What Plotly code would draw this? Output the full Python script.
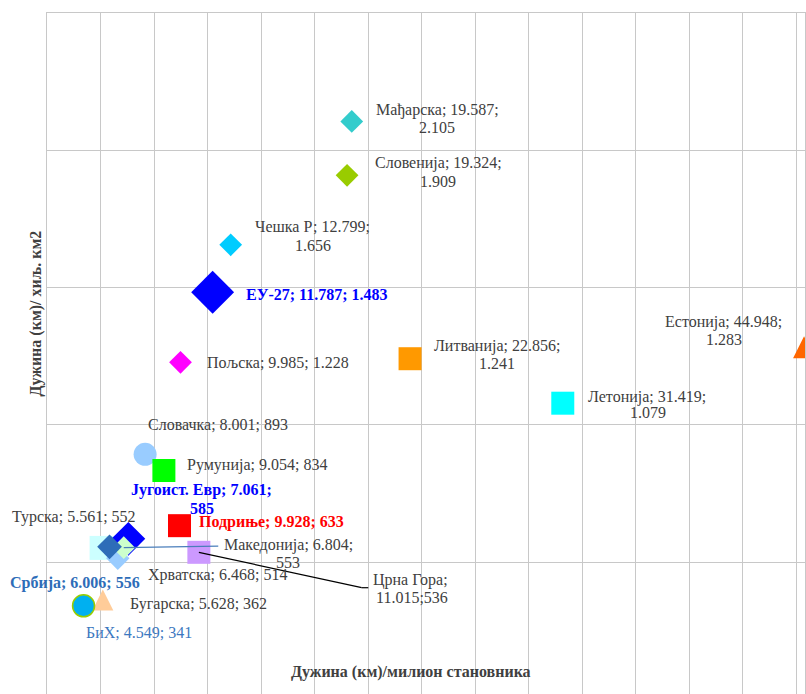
import plotly.graph_objects as go

# Road network density: km per million inhabitants vs. km per 1000 km2
countries = ["Мађарска", "Словенија", "Чешка Р", "ЕУ-27", "Пољска", "Литванија",
             "Летонија", "Естонија", "Словачка", "Румунија", "Подриње", "Црна Гора",
             "Бугарска", "БиХ", "Турска", "Југоист. Евр", "Хрватска", "Македонија", "Србија"]
km_per_million = [19587, 19324, 12799, 11787, 9985, 22856,
                  31419, 44948, 8001, 9054, 9928, 11015,
                  5628, 4549, 5561, 7061, 6468, 6804, 6006]
km_per_1000km2 = [2105, 1909, 1656, 1483, 1228, 1241,
                  1079, 1283, 893, 834, 633, 536,
                  362, 341, 552, 585, 514, 553, 556]

x_title = "Дужина (км)/милион становника"
y_title = "Дужина (км)/ хиљ. км2"

# Figure geometry
W, H = 806, 694
ML, MR, MT, MB = 47, 1, 13, 0
X_RANGE = [2500, 45000]
Y_RANGE = [20, 2500]
PW = W - ML - MR
PH = H - MT - MB

GRID = "#c8c8c8"
TXT = "#404040"
FONT = "Liberation Serif"

# marker style per country: (symbol, color, size)
style = {
    "Мађарска": ("diamond", "#33CCCC", 17.5),
    "Словенија": ("diamond", "#99CC00", 17.5),
    "Чешка Р": ("diamond", "#00CCFF", 17.5),
    "ЕУ-27": ("diamond", "#0000FF", 33),
    "Пољска": ("diamond", "#FF00FF", 17.5),
    "Литванија": ("square", "#FF9900", 23),
    "Летонија": ("square", "#00FFFF", 23),
    "Естонија": ("triangle", "#FF6600", 22),
    "Словачка": ("circle", "#99CCFF", 23),
    "Румунија": ("square", "#00FF00", 23),
    "Подриње": ("square", "#FF0000", 23),
    "Црна Гора": ("square", "#CC99FF", 23),
    "Бугарска": ("triangle", "#FFCC99", 21),
    "БиХ": ("circle", "#00B0F0", 22),
    "Турска": ("square", "#CCFFFF", 24),
    "Југоист. Евр": ("diamond", "#0000FF", 26),
    "Хрватска": ("diamond", "#99CCFF", 18),
    "Македонија": ("diamond", "#CCFFCC", 17.5),
    "Србија": ("diamond", "#2E6DB8", 19),
}

# label lines: (template, dx, dy, anchor) with offsets in px from the marker
labels = {
    "Мађарска": [("{n}; {x};", 86, -11.5, "center"), ("{y}", 85, 6.5, "center")],
    "Словенија": [("{n}; {x};", 91, -12, "center"), ("{y}", 91, 6, "center")],
    "Чешка Р": [("{n}; {x};", 82, -18, "center"), ("{y}", 82, 1, "center")],
    "ЕУ-27": [("<b>{n}; {x}; {y}</b>", 31, 2.5, "left")],
    "Пољска": [("{n}; {x}; {y}", 24.5, 0.7, "left")],
    "Литванија": [("{n}; {x};", 87, -12.7, "center"), ("{y}", 87, 5, "center")],
    "Летонија": [("{n}; {x};", 84, -6.5, "center"), ("{y}", 85, 9.5, "center")],
    "Естонија": [("{n}; {x};", -80.7, -25.5, "center"), ("{y}", -80, -8, "center")],
    "Словачка": [("{n}; {x}; {y}", 1, -29.3, "left")],
    "Румунија": [("{n}; {x}; {y}", 21, -5.5, "left")],
    "Подриње": [("<b>{n}; {x}; {y}</b>", 17.8, -4, "left")],
    "Црна Гора": [("{n};", 212, 27.7, "center"), ("{x};{y}", 213.6, 45, "center")],
    "Бугарска": [("{n}; {x}; {y}", 25.2, 4.2, "left")],
    "БиХ": [("{n}; {x}; {y}", 55.5, 26.4, "center")],
    "Турска": [("{n}; {x}; {y}", -27.6, -31, "center")],
    "Југоист. Евр": [("<b>{n}; {x};</b>", 73.5, -49, "center"), ("<b>{y}</b>", 73.5, -30.6, "center")],
    "Хрватска": [("{n}; {x}; {y}", 99.5, 16.6, "center")],
    "Македонија": [("{n}; {x};", 164.5, -2.6, "center"), ("{y}", 164.5, 14.7, "center")],
    "Србија": [("<b>{n}; {x}; {y}</b>", -34.8, 35.7, "center")],
}
label_color = {
    "ЕУ-27": "#0000FF",
    "Југоист. Евр": "#0000FF",
    "Подриње": "#FF0000",
    "Србија": "#2E6DB8",
    "БиХ": "#3C78C0",
}

# leader lines, as px offsets of the polyline points from the marker
leaders = {
    "Македонија": ([(94.5, -1.6)], "#4A7EBB"),
    "Црна Гора": ([(162.8, 35.4), (169.4, 35.4)], "#000000"),
}


def fmt(v):
    return f"{v:,}".replace(",", ".")


def dx_to_data(dpx):
    return dpx / PW * (X_RANGE[1] - X_RANGE[0])


def dy_to_data(dpy):
    return -dpy / PH * (Y_RANGE[1] - Y_RANGE[0])


fig = go.Figure()

for name, xv, yv in zip(countries, km_per_million, km_per_1000km2):
    sym, col, size = style[name]
    marker = dict(color=col, size=size, line=dict(width=0))
    if sym == "triangle":
        # equal-width/height triangle centred on the point
        marker.update(symbol="arrow-down", angle=180, standoff=size / 2)
    else:
        marker.update(symbol=sym)
    if name == "БиХ":
        marker["line"] = dict(width=1.5, color="#99CC00")
    fig.add_trace(go.Scatter(
        x=[xv], y=[yv], mode="markers", name=name, marker=marker,
        cliponaxis=False, showlegend=False, hoverinfo="skip",
    ))

annotations = []
for name, xv, yv in zip(countries, km_per_million, km_per_1000km2):
    color = label_color.get(name, TXT)
    for tmpl, dx, dy, anchor in labels[name]:
        annotations.append(dict(
            x=xv, y=yv, xref="x", yref="y", showarrow=False,
            text=tmpl.format(n=name, x=fmt(xv), y=fmt(yv)),
            xanchor=anchor, yanchor="middle", xshift=dx, yshift=-dy,
            font=dict(family=FONT, size=16, color=color),
        ))

shapes = []
for name, (pts, col) in leaders.items():
    i = countries.index(name)
    x0, y0 = km_per_million[i], km_per_1000km2[i]
    prev = (x0, y0)
    for dx, dy in pts:
        nxt = (x0 + dx_to_data(dx), y0 + dy_to_data(dy))
        shapes.append(dict(type="line", xref="x", yref="y",
                           x0=prev[0], y0=prev[1], x1=nxt[0], y1=nxt[1],
                           line=dict(color=col, width=1.2), layer="above"))
        prev = nxt

# axis titles
annotations.append(dict(
    x=(411.3 - ML) / PW, y=1 - (672 - MT) / PH, xref="paper", yref="paper",
    text=f"<b>{x_title}</b>", showarrow=False, xanchor="center", yanchor="middle",
    font=dict(family=FONT, size=16, color=TXT),
))
annotations.append(dict(
    x=0, y=1 - (313.5 - MT) / PH, xref="paper", yref="paper", xshift=35 - ML,
    text=f"<b>{y_title}</b>", showarrow=False, textangle=-90,
    xanchor="center", yanchor="middle",
    font=dict(family=FONT, size=16, color=TXT),
))

fig.update_layout(
    width=W, height=H,
    margin=dict(l=ML, r=MR, t=MT, b=MB, pad=0),
    paper_bgcolor="white", plot_bgcolor="white",
    xaxis=dict(range=X_RANGE, tick0=2500, dtick=3000, showgrid=True,
               gridcolor=GRID, gridwidth=1, showticklabels=False, ticks="",
               zeroline=False, showline=True, linecolor=GRID, linewidth=1,
               side="top", automargin=False, fixedrange=True),
    yaxis=dict(range=Y_RANGE, tick0=0, dtick=500, showgrid=True,
               gridcolor=GRID, gridwidth=1, showticklabels=False, ticks="",
               zeroline=False, showline=True, mirror=True, linecolor=GRID,
               linewidth=1, automargin=False, fixedrange=True),
    annotations=annotations,
    shapes=shapes,
    showlegend=False,
)

fig.write_html("out.html", config={"displayModeBar": False})
